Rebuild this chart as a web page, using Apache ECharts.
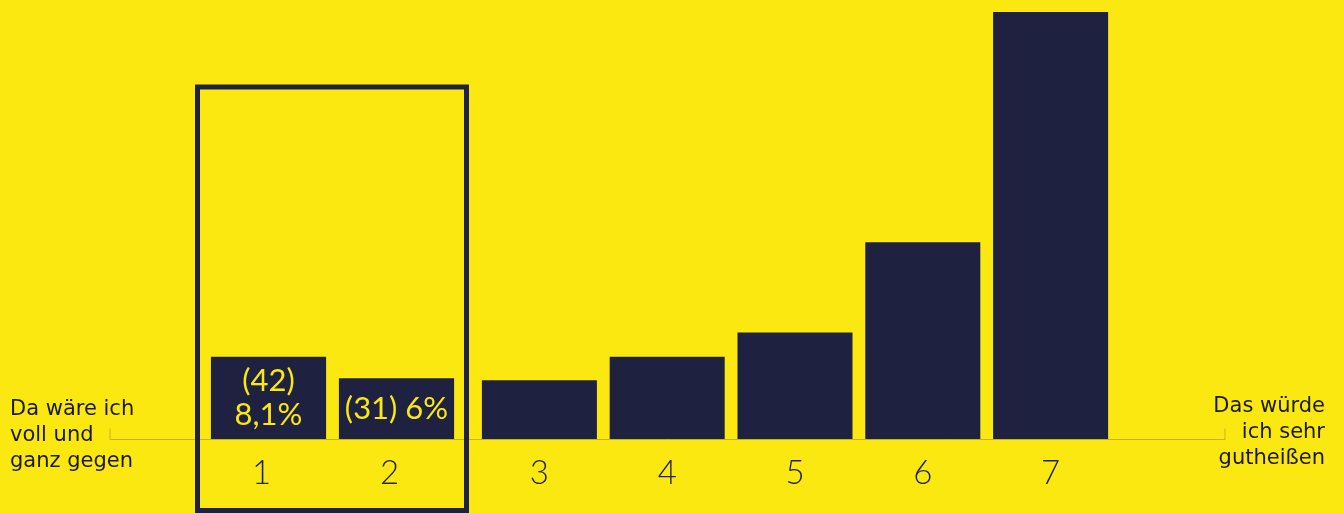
<!DOCTYPE html>
<html>
<head>
<meta charset="utf-8">
<script src="https://cdn.jsdelivr.net/npm/echarts@6/dist/echarts.min.js"></script>
<style>
html,body{margin:0;padding:0;background:#FCE811;}
#c{width:1343px;height:513px;}
</style>
</head>
<body>
<div id="c"></div>
<script>
const categories = ['1', '2', '3', '4', '5', '6', '7'];
const percents = [8.1, 6.0, 5.8, 8.1, 10.5, 19.4, 42.1];
const counts = [42, 31, 30, 42, 54, 100, 218];
const percentLabels = ['8,1%', '6%', '', '', '', '', ''];
const leftText = 'Da wäre ich\nvoll und\nganz gegen';
const rightText = 'Das würde\nich sehr\ngutheißen';

const BG = '#FCE811';
const NAVY = '#1E2140';
const SPLIT = 2; // first two categories are the highlighted group

const chart = echarts.init(document.getElementById('c'), null, {renderer: 'canvas'});

const seriesData = percents.map((v, i) => {
  const item = {value: v};
  if (i === 0) {
    item.label = {show: true, formatter: '(' + counts[i] + ')\n' + percentLabels[i]};
  } else if (i === 1) {
    item.label = {show: true, formatter: '(' + counts[i] + ') ' + percentLabels[i]};
  }
  return item;
});

const maxVal = Math.max(...percents);
const labelBase = {color: NAVY, fontFamily: 'Lato', fontWeight: 300, fontSize: 33, margin: 18};
const xAxisBase = {
  type: 'category',
  axisLine: {show: false},
  axisTick: {show: false}
};
const yAxisBase = {type: 'value', min: 0, max: maxVal, show: false, splitLine: {show: false}};
const seriesBase = {
  type: 'bar',
  barCategoryGap: '10%',
  itemStyle: {color: NAVY},
  z: 5,
  label: {show: false, position: 'inside', color: BG, fontFamily: 'Lato', fontSize: 31, lineHeight: 34}
};

chart.setOption({
  backgroundColor: BG,
  animation: false,
  grid: [
    {left: 204.5, width: 256, top: 12, bottom: 74},
    {left: 475.5, width: 639, top: 12, bottom: 74}
  ],
  xAxis: [
    Object.assign({gridIndex: 0, data: categories.slice(0, SPLIT),
      axisLabel: Object.assign({padding: [0, 14, 0, 0]}, labelBase)}, xAxisBase),
    Object.assign({gridIndex: 1, data: categories.slice(SPLIT),
      axisLabel: Object.assign({}, labelBase)}, xAxisBase)
  ],
  yAxis: [
    Object.assign({gridIndex: 0}, yAxisBase),
    Object.assign({gridIndex: 1}, yAxisBase)
  ],
  series: [
    Object.assign({xAxisIndex: 0, yAxisIndex: 0, data: seriesData.slice(0, SPLIT)}, seriesBase),
    Object.assign({xAxisIndex: 1, yAxisIndex: 1, data: seriesData.slice(SPLIT)}, seriesBase)
  ],
  graphic: [
    {
      type: 'polyline', z: 1,
      shape: {points: [[110, 428.5], [110, 439.5], [1225, 439.5], [1225, 428.5]]},
      style: {stroke: '#C6B31C', lineWidth: 1, fill: null}
    },
    {
      type: 'rect', z: 10,
      shape: {x: 197.5, y: 87, width: 269, height: 423.5},
      style: {stroke: NAVY, lineWidth: 5, fill: null}
    },
    {
      type: 'text', z: 10, x: 10, y: 397,
      style: {text: leftText, fill: '#1A1A1A', font: '21px "DejaVu Sans"', lineHeight: 26, align: 'left', verticalAlign: 'top'}
    },
    {
      type: 'text', z: 10, x: 1325, y: 394,
      style: {text: rightText, fill: '#1A1A1A', font: '21px "DejaVu Sans"', lineHeight: 26, align: 'right', verticalAlign: 'top'}
    }
  ]
});
</script>
</body>
</html>
